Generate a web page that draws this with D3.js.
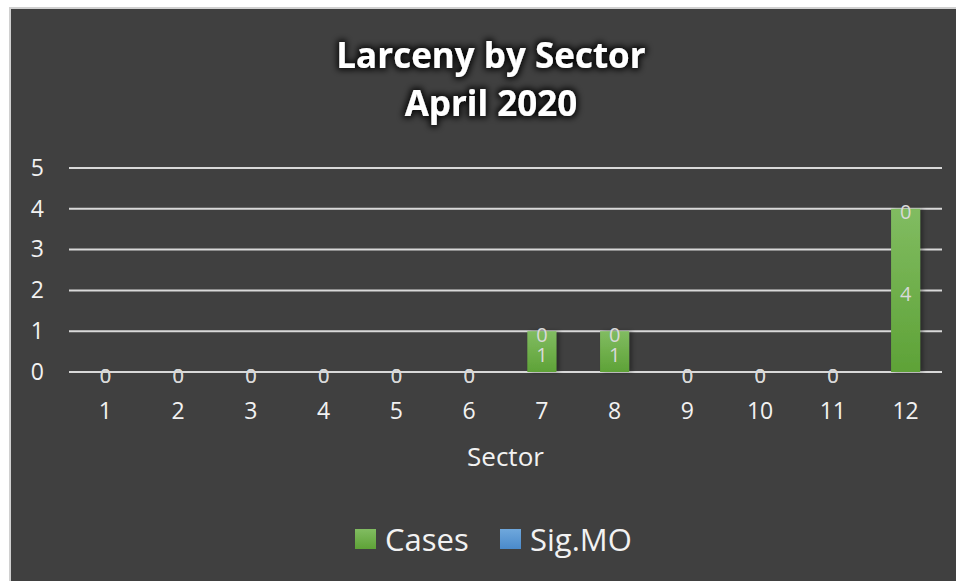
<!DOCTYPE html>
<html>
<head>
<meta charset="utf-8">
<script src="https://cdn.jsdelivr.net/npm/d3@7"></script>
<style>
  html, body { margin: 0; padding: 0; background: #ffffff; }
  svg { display: block; }
  text { font-family: "Open Sans", sans-serif; }
</style>
</head>
<body>
<div id="chart"></div>
<script>
// chart values
var sectors = ["1", "2", "3", "4", "5", "6", "7", "8", "9", "10", "11", "12"];
var cases   = [0, 0, 0, 0, 0, 0, 1, 1, 0, 0, 0, 4];
var sigMO   = [0, 0, 0, 0, 0, 0, 0, 0, 0, 0, 0, 0];
var yTicks  = [0, 1, 2, 3, 4, 5];
var seriesNames = ["Cases", "Sig.MO"];
var titleLines = ["Larceny by Sector", "April 2020"];

var W = 956, H = 581;
var plot = {left: 69, right: 942, top: 168, bottom: 372};

var svg = d3.select("#chart").append("svg")
    .attr("width", W)
    .attr("height", H);

var defs = svg.append("defs");

// gradients for bars and legend
function addGrad(id, top, bottom) {
    var g = defs.append("linearGradient")
        .attr("id", id)
        .attr("x1", 0).attr("y1", 0).attr("x2", 0).attr("y2", 1);
    g.append("stop").attr("offset", "0%").attr("stop-color", top);
    g.append("stop").attr("offset", "100%").attr("stop-color", bottom);
}
addGrad("gCases", "#81bc61", "#5ea237");
addGrad("gSig", "#6fa8dc", "#4a8acb");

// glow behind title
var glow = defs.append("filter").attr("id", "glow")
    .attr("x", "-20%").attr("y", "-40%").attr("width", "140%").attr("height", "180%");
glow.append("feMorphology").attr("in", "SourceAlpha").attr("operator", "dilate").attr("radius", 2).attr("result", "fat");
glow.append("feGaussianBlur").attr("in", "fat").attr("stdDeviation", 3).attr("result", "blur");
glow.append("feFlood").attr("flood-color", "#000").attr("flood-opacity", 0.85);
glow.append("feComposite").attr("in2", "blur").attr("operator", "in").attr("result", "shadow");
var merge = glow.append("feMerge");
merge.append("feMergeNode").attr("in", "shadow");
merge.append("feMergeNode").attr("in", "SourceGraphic");

// small shadow on bars
var shadow = defs.append("filter").attr("id", "barShadow")
    .attr("x", "-30%").attr("y", "-10%").attr("width", "160%").attr("height", "120%");
shadow.append("feDropShadow").attr("dx", 3).attr("dy", 0).attr("stdDeviation", 2)
    .attr("flood-color", "#000").attr("flood-opacity", 0.35);

// chart background with thin light border
svg.append("rect")
    .attr("x", 10).attr("y", 8)
    .attr("width", W + 10).attr("height", H + 10)
    .attr("fill", "#404040")
    .attr("stroke", "#d0d0d0")
    .attr("stroke-width", 2);

// title
svg.append("g").selectAll("text")
    .data(titleLines)
    .enter().append("text")
    .attr("x", 491)
    .attr("y", function(d, i) { return 68 + i * 48; })
    .attr("text-anchor", "middle")
    .attr("fill", "#ffffff")
    .attr("font-weight", "bold")
    .attr("font-size", 35)
    .attr("filter", "url(#glow)")
    .text(function(d) { return d; });

var x = d3.scaleBand()
    .domain(sectors)
    .range([plot.left, plot.right])
    .padding(0);

var y = d3.scaleLinear()
    .domain([0, 5])
    .range([plot.bottom, plot.top]);

var barW = x.bandwidth() * 0.4;

// gridlines
svg.append("g").selectAll("line")
    .data(yTicks)
    .enter().append("line")
    .attr("x1", plot.left).attr("x2", plot.right)
    .attr("y1", function(d) { return y(d); })
    .attr("y2", function(d) { return y(d); })
    .attr("stroke", "#d9d9d9")
    .attr("stroke-width", 2);

// y axis labels
var yAxis = svg.append("g")
    .attr("transform", "translate(44,0)")
    .call(d3.axisLeft(y).tickValues(yTicks).tickFormat(d3.format("d")).tickSize(0).tickPadding(0));
yAxis.select(".domain").remove();
yAxis.selectAll("text")
    .attr("fill", "#f2f2f2")
    .attr("font-size", 23)
    .attr("font-family", "Open Sans");

// x axis labels
var xAxis = svg.append("g")
    .attr("transform", "translate(0," + plot.bottom + ")")
    .call(d3.axisBottom(x).tickSize(0).tickPadding(31));
xAxis.select(".domain").remove();
xAxis.selectAll("text")
    .attr("fill", "#f2f2f2")
    .attr("font-size", 23)
    .attr("font-family", "Open Sans");

svg.append("text")
    .attr("x", (plot.left + plot.right) / 2)
    .attr("y", 466)
    .attr("text-anchor", "middle")
    .attr("fill", "#f2f2f2")
    .attr("font-size", 26)
    .text("Sector");

// stacked bars
var rows = sectors.map(function(s, i) {
    return {sector: s, Cases: cases[i], "Sig.MO": sigMO[i]};
});
var stack = d3.stack().keys(seriesNames)(rows);
var fills = {"Cases": "url(#gCases)", "Sig.MO": "url(#gSig)"};

var layers = svg.append("g").selectAll("g")
    .data(stack)
    .enter().append("g")
    .attr("fill", function(d) { return fills[d.key]; });

layers.selectAll("rect")
    .data(function(d) { return d.filter(function(p) { return p[1] > p[0]; }); })
    .enter().append("rect")
    .attr("x", function(d) { return x(d.data.sector) + (x.bandwidth() - barW) / 2; })
    .attr("y", function(d) { return y(d[1]); })
    .attr("width", barW)
    .attr("height", function(d) { return y(d[0]) - y(d[1]); })
    .attr("filter", "url(#barShadow)");

// data labels
layers.selectAll("text")
    .data(function(d) { return d.map(function(p) { return {p: p, key: d.key}; }); })
    .enter().append("text")
    .attr("x", function(d) { return x(d.p.data.sector) + x.bandwidth() / 2; })
    .attr("y", function(d) { return (y(d.p[0]) + y(d.p[1])) / 2 + 3; })
    .attr("text-anchor", "middle")
    .attr("dominant-baseline", "central")
    .attr("fill", "#d9d9d9")
    .attr("font-size", 20)
    .text(function(d) { return d.p.data[d.key]; });

// legend
var legend = svg.append("g").selectAll("g")
    .data(seriesNames)
    .enter().append("g")
    .attr("transform", function(d, i) { return "translate(" + (i === 0 ? 355 : 500) + ",529)"; });
legend.append("rect")
    .attr("width", 21).attr("height", 20)
    .attr("fill", function(d) { return fills[d]; });
legend.append("text")
    .attr("x", 30)
    .attr("y", 10)
    .attr("dominant-baseline", "central")
    .attr("fill", "#f2f2f2")
    .attr("font-size", 31)
    .text(function(d) { return d; });
</script>
</body>
</html>
